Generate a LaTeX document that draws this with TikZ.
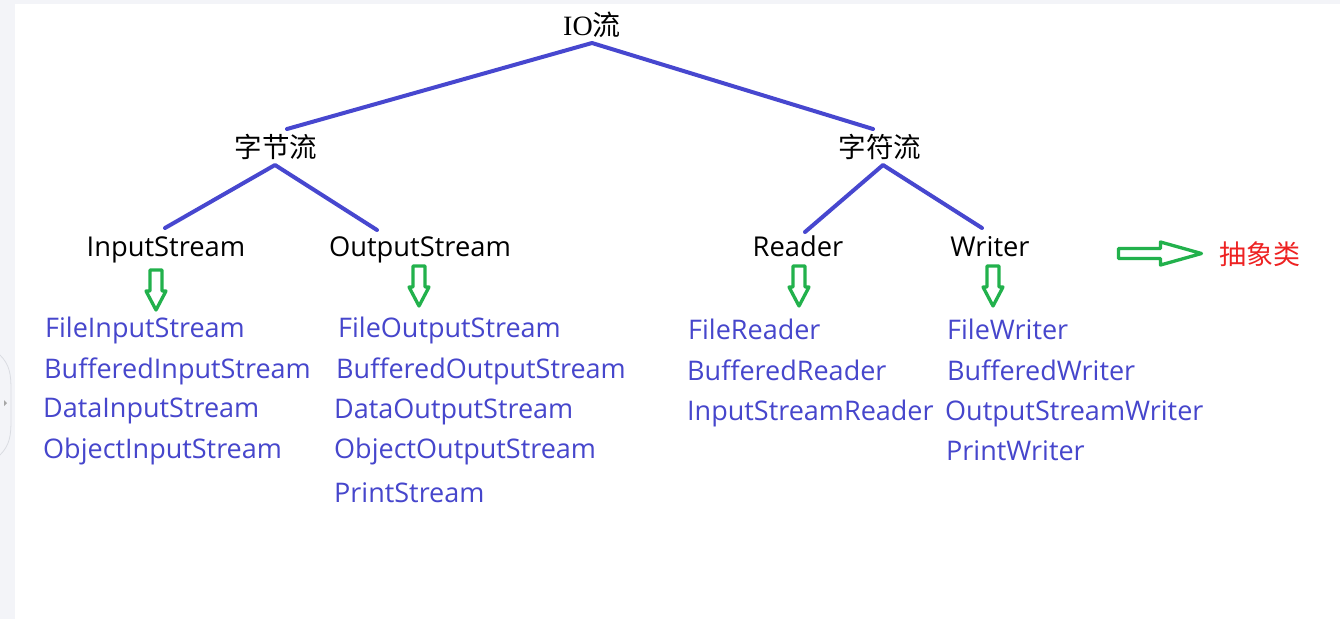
\documentclass[tikz,border=0pt]{standalone}
\usepackage{fontspec}
\setmainfont{Open Sans}
\newfontfamily\cjk{Noto Sans CJK SC}
\newfontfamily\serifio{Liberation Serif}
\definecolor{linec}{HTML}{4747CF}
\definecolor{txtblue}{HTML}{4646CC}
\definecolor{arrg}{HTML}{22B14C}
\definecolor{absred}{HTML}{EE2222}
\definecolor{bgc}{HTML}{F3F4F8}
\definecolor{tabc}{HTML}{DADCE2}
\begin{document}
\begin{tikzpicture}[x=1pt,y=-1pt,
  conn/.style={draw=linec,line width=4pt,line cap=round,line join=round},
  title/.style={inner sep=0pt,font=\fontsize{27.5}{30}\selectfont\cjk,text=black},
  absnode/.style={inner sep=0pt,anchor=base,font=\fontsize{27.3}{30}\selectfont,text=black},
  impl/.style={inner sep=0pt,anchor=base west,font=\fontsize{27}{30}\selectfont,text=txtblue},
  darr/.pic={\draw[arrg,line width=3.3pt,line join=round]
     (-6,0) -- (6,0) -- (6,21) -- (10,21) -- (0,40) -- (-10,21) -- (-6,21) -- cycle;},
  rarr/.pic={\draw[arrg,line width=3.3pt,line join=round]
     (0,-5) -- (42,-5) -- (42,-11.5) -- (83,0) -- (42,11.5) -- (42,5) -- (0,5) -- cycle;}
]
\fill[bgc] (0,0) rectangle (1340,619);
\fill[white] (15,4) rectangle (1340,619);
\useasboundingbox (0,0) rectangle (1340,619);
\draw[tabc,line width=0.8pt] (0,355) .. controls (10,365) and (11,375) .. (11,390)
   -- (11,420) .. controls (11,435) and (10,445) .. (0,455);
\fill[gray!70] (4,400) -- (7,403) -- (4,406) -- cycle;

% tree labels
\node[title,font=\fontsize{28}{30}\selectfont\cjk] (io) at (592,25) {{\serifio IO}流};
\node[title] (byte) at (276,147) {字节流};
\node[title] (char) at (880,147) {字符流};
\node[absnode] (is) at (166,256.5) {InputStream};
\node[absnode] (os) at (420,256.5) {OutputStream};
\node[absnode] (rd) at (798,256.5) {Reader};
\node[absnode] (wr) at (990,256.5) {Writer};

% connector end points
\coordinate (io-b) at (592,43);
\coordinate (byte-t) at (287,129);
\coordinate (char-t) at (873,129);
\coordinate (byte-b) at (275,165);
\coordinate (is-t) at (165,228);
\coordinate (os-t) at (377,230);
\coordinate (char-b) at (883,165);
\coordinate (rd-t) at (805,232);
\coordinate (wr-t) at (982,228);

\draw[conn] (byte-t) -- (io-b) -- (char-t);
\draw[conn] (is-t) -- (byte-b) -- (os-t);
\draw[conn] (rd-t) -- (char-b) -- (wr-t);

% green arrows
\pic at (156,270) {darr};
\pic at (419,266) {darr};
\pic at (799,266) {darr};
\pic at (993,266) {darr};
\pic at (1118.5,253.5) {rarr};
\node[inner sep=0pt,font=\fontsize{27}{30}\selectfont\cjk,text=absred] (abs) at (1260,254) {抽象类};

% implementation classes
\node[impl] (c1a) at (45,337) {FileInputStream};
\node[impl] (c1b) at (44,378) {BufferedInputStream};
\node[impl] (c1c) at (43,417) {DataInputStream};
\node[impl] (c1d) at (43,458) {ObjectInputStream};

\node[impl] (c2a) at (338,337) {FileOutputStream};
\node[impl] (c2b) at (336,378) {BufferedOutputStream};
\node[impl] (c2c) at (334,418) {DataOutputStream};
\node[impl] (c2d) at (334,458) {ObjectOutputStream};
\node[impl] (c2e) at (334,502) {PrintStream};

\node[impl] (c3a) at (688,339) {FileReader};
\node[impl] (c3b) at (687,380) {BufferedReader};
\node[impl] (c3c) at (687,420) {InputStreamReader};

\node[impl] (c4a) at (947,339) {FileWriter};
\node[impl] (c4b) at (947,380) {BufferedWriter};
\node[impl] (c4c) at (945,420) {OutputStreamWriter};
\node[impl] (c4d) at (946,460) {PrintWriter};
\end{tikzpicture}
\end{document}
